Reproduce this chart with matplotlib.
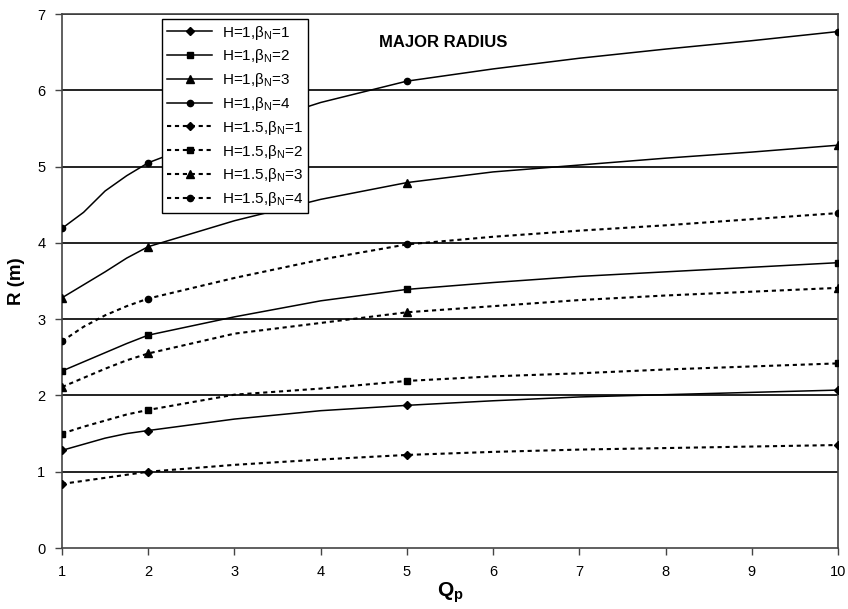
import matplotlib
matplotlib.use('Agg')
import matplotlib.pyplot as plt

plt.rcParams['font.family'] = ['Liberation Sans', 'DejaVu Sans']
plt.rcParams['mathtext.fontset'] = 'custom'
plt.rcParams['mathtext.rm'] = 'Liberation Sans'
plt.rcParams['mathtext.bf'] = 'Liberation Sans:bold'

# Qp values, markers only drawn at 1, 2, 5 and 10
qp = [1, 1.25, 1.5, 1.75, 2, 3, 4, 5, 6, 7, 8, 9, 10]
marked = [0, 4, 7, 12]

h1_b1 = [1.28, 1.36, 1.44, 1.50, 1.54, 1.69, 1.80, 1.87, 1.93, 1.98, 2.01, 2.04, 2.07]
h1_b2 = [2.32, 2.44, 2.56, 2.68, 2.79, 3.03, 3.24, 3.39, 3.48, 3.56, 3.62, 3.68, 3.74]
h1_b3 = [3.28, 3.45, 3.62, 3.80, 3.95, 4.29, 4.57, 4.79, 4.93, 5.02, 5.11, 5.19, 5.28]
h1_b4 = [4.19, 4.40, 4.68, 4.88, 5.05, 5.48, 5.84, 6.12, 6.28, 6.42, 6.54, 6.65, 6.77]
h15_b1 = [0.84, 0.88, 0.92, 0.96, 1.00, 1.09, 1.16, 1.22, 1.26, 1.29, 1.31, 1.33, 1.35]
h15_b2 = [1.50, 1.59, 1.67, 1.75, 1.81, 2.01, 2.09, 2.19, 2.25, 2.29, 2.34, 2.38, 2.42]
h15_b3 = [2.11, 2.23, 2.35, 2.46, 2.55, 2.81, 2.95, 3.09, 3.17, 3.25, 3.31, 3.36, 3.41]
h15_b4 = [2.71, 2.90, 3.05, 3.17, 3.27, 3.54, 3.78, 3.98, 4.08, 4.16, 4.23, 4.31, 4.39]

series = [
    ('H=1,β$_\\mathrm{N}$=1', h1_b1, '-', 'D', 4.2),
    ('H=1,β$_\\mathrm{N}$=2', h1_b2, '-', 's', 5),
    ('H=1,β$_\\mathrm{N}$=3', h1_b3, '-', '^', 6),
    ('H=1,β$_\\mathrm{N}$=4', h1_b4, '-', 'o', 4.5),
    ('H=1.5,β$_\\mathrm{N}$=1', h15_b1, (0, (2, 1.8)), 'D', 4.2),
    ('H=1.5,β$_\\mathrm{N}$=2', h15_b2, (0, (2, 1.8)), 's', 5),
    ('H=1.5,β$_\\mathrm{N}$=3', h15_b3, (0, (2, 1.8)), '^', 6),
    ('H=1.5,β$_\\mathrm{N}$=4', h15_b4, (0, (2, 1.8)), 'o', 4.5),
]

fig = plt.figure(figsize=(8.48, 6.09), dpi=100)
ax = fig.add_axes([62 / 848, 61 / 609, 776 / 848, 534 / 609])

for label, vals, ls, mk, ms in series:
    lw = 1.1 if ls == '-' else 1.5
    ax.plot(qp, vals, color='black', linestyle=ls, linewidth=lw,
            marker=mk, markersize=ms, markevery=marked, label=label, zorder=3)

ax.set_xlim(1, 10)
ax.set_ylim(0, 7)
ax.set_xticks(range(1, 11))
ax.set_yticks(range(0, 8))
for y in range(1, 8):
    ax.axhline(y, color='#222222', linewidth=1.4, zorder=1)

for side in ['left', 'bottom', 'right', 'top']:
    ax.spines[side].set_color('#444444')
    ax.spines[side].set_linewidth(1.2)

ax.tick_params(axis='both', direction='out', length=5, width=1, color='#444444',
               labelsize=10.5, pad=7)

ax.set_ylabel('R (m)', fontsize=13.5, fontweight='bold', labelpad=9)
ax.set_xlabel(r'$\mathbf{Q_p}$', fontsize=15, labelpad=1)

ax.text(5.42, 6.63, 'MAJOR RADIUS', fontsize=12, fontweight='bold',
        ha='center', va='center')

leg = ax.legend(loc='upper left', bbox_to_anchor=(162 / 848, 1 - 19 / 609),
                bbox_transform=fig.transFigure, fontsize=11, frameon=True,
                fancybox=False, edgecolor='black', framealpha=1,
                borderaxespad=0, borderpad=0.3, handlelength=3.0,
                handletextpad=0.6, labelspacing=0.38)
leg.get_frame().set_linewidth(1.0)
leg.set_zorder(5)

fig.savefig('out.png', dpi=100)
